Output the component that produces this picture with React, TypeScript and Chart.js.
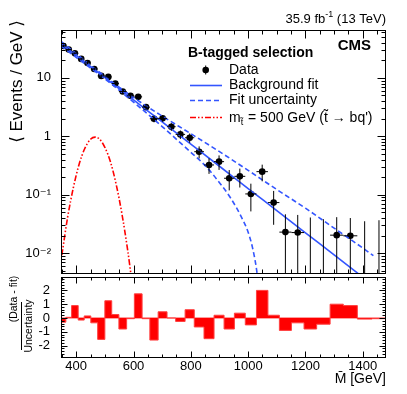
import React, { useEffect, useRef } from "react";
import { Chart, registerables } from "chart.js";

Chart.register(...registerables);

const FONT = "'Liberation Sans', Arial, 'DejaVu Sans', sans-serif";

// ---- data ----
const binEdges = [347, 364, 384, 407, 428, 451, 475, 500, 524, 549, 576, 603, 630, 657, 686, 717, 747, 780, 812, 846, 881, 916, 952, 990, 1029, 1069, 1109, 1151, 1195, 1239, 1286, 1332, 1381, 1432, 1481];
const dataValues = [35.1, 30.5, 26.4, 21.1, 18.0, 14.2, 10.8, 10.4, 8.0, 5.86, 4.93, 4.74, 3.16, 2.0, 2.03, 1.46, 1.08, 0.946, 0.546, 0.324, 0.369, 0.192, 0.207, 0.1035, 0.249, 0.0736, 0.023, 0.0226, 0, 0, 0.0204, 0.0199, 0, 0];
const residuals = [-0.3, 0.05, 0.9, -0.15, 0.15, -0.35, -1.55, 1.25, 0.25, -0.8, -0.05, 1.75, -0.05, -1.6, 0.45, 0.0, -0.25, 0.6, -0.65, -1.5, 0.2, -0.8, 0.35, -0.5, 2.0, 0.2, -0.9, -0.35, -0.8, -0.45, 1.0, 0.9, -0.08, -0.05];

const fitMass = [347, 400, 500, 600, 700, 800, 900, 1000, 1100, 1200, 1300, 1400, 1437];
const fitValues = [38.5, 24.2, 10.1, 4.2, 1.76, 0.736, 0.308, 0.128, 0.0537, 0.0224, 0.0094, 0.0039, 0.0028];
const fitUpperValues = [42.2, 25.9, 10.6, 4.62, 2.22, 1.11, 0.547, 0.262, 0.123, 0.059, 0.0269, 0.0123, 0.0091];
const fitLowerMass = [347, 400, 500, 600, 700, 800, 850, 900, 940, 980, 1000, 1015, 1030, 1040];
const fitLowerValues = [35.1, 22.5, 9.64, 3.85, 1.47, 0.533, 0.316, 0.161, 0.0863, 0.0385, 0.0229, 0.0126, 0.005, 0.0018];

const signalMass = [350, 370, 390, 410, 430, 450, 466, 480, 500, 520, 540, 560, 580, 592];
const signalValues = [0.0093, 0.041, 0.132, 0.33, 0.62, 0.89, 0.97, 0.91, 0.65, 0.36, 0.147, 0.046, 0.011, 0.004];

const emptyBinUpperEvents = 1.8;

const xMajorTicks = [400, 600, 800, 1000, 1200, 1400];
const xTickLabels = ["400", "600", "800", "1000", "1200", "1400"];
const yTickValues = [0.01, 0.1, 1, 10];
const yTickLabels = ["10\u207B\u00B2", "10\u207B\u00B9", "1", "10"];
const rTickValues = [-2, -1, 0, 1, 2];
const rTickLabels = ["-2", "-1", "0", "1", "2"];

const X_MIN = 347, X_MAX = 1481;
const Y_MIN = 0.00442, Y_MAX = 65.9;
const R_MIN = -2.9, R_MAX = 2.95;
const BLUE = "#3355ff";
const RED = "#ff0000";
const BOT_TOP = 269;

function xMinorTicks(): number[] {
  const out: number[] = [];
  for (let v = 350; v <= 1450; v += 50) if (v % 200 !== 0) out.push(v);
  return out;
}
function yMinorTicks(): number[] {
  const out: number[] = [];
  for (let e = -3; e <= 1; e++) for (let k = 2; k <= 9; k++) {
    const v = k * Math.pow(10, e);
    if (v > Y_MIN && v < Y_MAX) out.push(v);
  }
  return out;
}
function rMinorTicks(): number[] {
  const out: number[] = [];
  for (let i = -14; i <= 14; i++) if (i % 5 !== 0) out.push(i * 0.2);
  return out;
}

function drawFrame(chart: any, xMaj: number, xMin: number, yMaj: number, yMin: number, yMajor: number[], yMinor: number[]) {
  const { ctx, chartArea: a, scales } = chart;
  const xs = scales.x, ys = scales.y;
  ctx.save();
  ctx.strokeStyle = "#000";
  ctx.lineWidth = 1;
  const L = Math.round(a.left) + 0.5, R = Math.round(a.right) - 0.5;
  const T = Math.round(a.top) + 0.5, B = Math.round(a.bottom) - 0.5;
  ctx.beginPath();
  const tx = (v: number, len: number) => {
    const p = Math.round(xs.getPixelForValue(v)) + 0.5;
    if (p < L || p > R) return;
    ctx.moveTo(p, B); ctx.lineTo(p, B - len);
    ctx.moveTo(p, T); ctx.lineTo(p, T + len);
  };
  const ty = (v: number, len: number) => {
    const p = Math.round(ys.getPixelForValue(v)) + 0.5;
    if (p < T || p > B) return;
    ctx.moveTo(L, p); ctx.lineTo(L + len, p);
    ctx.moveTo(R, p); ctx.lineTo(R - len, p);
  };
  xMajorTicks.forEach((v) => tx(v, xMaj));
  xMinorTicks().forEach((v) => tx(v, xMin));
  yMajor.forEach((v) => ty(v, yMaj));
  yMinor.forEach((v) => ty(v, yMin));
  ctx.stroke();
  ctx.strokeRect(L, T, R - L, B - T);
  ctx.restore();
}

const errorBarPlugin = {
  id: "errorBars",
  afterDatasetsDraw(chart: any) {
    const { ctx, chartArea: a, scales } = chart;
    const xs = scales.x, ys = scales.y;
    ctx.save();
    ctx.beginPath();
    ctx.rect(a.left, a.top, a.right - a.left, a.bottom - a.top);
    ctx.clip();
    ctx.strokeStyle = "#000";
    ctx.lineWidth = 1;
    ctx.beginPath();
    for (let i = 0; i < dataValues.length; i++) {
      const lo = binEdges[i], hi = binEdges[i + 1];
      const w = hi - lo;
      const c = xs.getPixelForValue((lo + hi) / 2);
      const v = dataValues[i];
      if (v > 0) {
        const err = Math.sqrt(v * w) / w;
        const yTop = ys.getPixelForValue(v + err);
        const yBot = v - err > 0 ? ys.getPixelForValue(v - err) : a.bottom + 5;
        ctx.moveTo(c, yTop); ctx.lineTo(c, yBot);
        const py = ys.getPixelForValue(v);
        ctx.moveTo(xs.getPixelForValue(lo), py); ctx.lineTo(xs.getPixelForValue(hi), py);
      } else {
        const yTop = ys.getPixelForValue(emptyBinUpperEvents / w);
        ctx.moveTo(c, yTop); ctx.lineTo(c, a.bottom + 5);
      }
    }
    ctx.stroke();
    ctx.restore();
  },
};

function drawRotated(ctx: CanvasRenderingContext2D, text: string, cx: number, cy: number, align: CanvasTextAlign) {
  ctx.save();
  ctx.translate(cx, cy);
  ctx.rotate(-Math.PI / 2);
  ctx.textAlign = align;
  ctx.textBaseline = "middle";
  ctx.fillText(text, 0, 0);
  ctx.restore();
}

const topDecor = {
  id: "topDecor",
  afterDraw(chart: any) {
    drawFrame(chart, 8, 4, 8, 4, yTickValues, yMinorTicks());
    const ctx: CanvasRenderingContext2D = chart.ctx;
    ctx.save();
    ctx.fillStyle = "#000";
    ctx.textBaseline = "alphabetic";
    ctx.textAlign = "left";
    // luminosity header
    const p1 = "35.9 fb", sup = "-1", p3 = " (13 TeV)";
    ctx.font = `13px ${FONT}`;
    const w1 = ctx.measureText(p1).width, w3 = ctx.measureText(p3).width;
    ctx.font = `9px ${FONT}`;
    const ws = ctx.measureText(sup).width;
    let x = 386 - w1 - ws - w3;
    ctx.font = `13px ${FONT}`;
    ctx.fillText(p1, x, 23); x += w1;
    ctx.font = `9px ${FONT}`;
    ctx.fillText(sup, x, 17); x += ws;
    ctx.font = `13px ${FONT}`;
    ctx.fillText(p3, x, 23);
    // CMS
    ctx.font = `bold 15px ${FONT}`;
    ctx.textAlign = "right";
    ctx.fillText("CMS", 371, 50);
    // legend header
    ctx.textAlign = "left";
    ctx.font = `bold 14px ${FONT}`;
    ctx.fillText("B-tagged selection", 188, 57);
    // legend entries
    ctx.font = `14px ${FONT}`;
    ctx.fillText("Data", 229, 73.5);
    ctx.fillText("Background fit", 229, 88.5);
    ctx.fillText("Fit uncertainty", 229, 104);
    let mx = 229;
    ctx.fillText("m", mx, 121.5); mx += ctx.measureText("m").width;
    ctx.font = `9px ${FONT}`;
    ctx.fillText("t\u0303", mx, 125); mx += ctx.measureText("t").width + 1;
    ctx.font = `14px ${FONT}`;
    ctx.fillText(" = 500 GeV (t\u0303 \u2192 bq')", mx, 121.5);
    // legend symbols
    ctx.beginPath();
    ctx.arc(205.7, 70, 3.3, 0, Math.PI * 2);
    ctx.fill();
    ctx.strokeStyle = "#000";
    ctx.lineWidth = 1;
    ctx.beginPath();
    ctx.moveTo(205.7, 65.5); ctx.lineTo(205.7, 74.5);
    ctx.stroke();
    ctx.lineWidth = 1.6;
    ctx.strokeStyle = BLUE;
    ctx.beginPath(); ctx.moveTo(190, 85.5); ctx.lineTo(222, 85.5); ctx.stroke();
    ctx.setLineDash([5, 3]);
    ctx.beginPath(); ctx.moveTo(190, 100.5); ctx.lineTo(222, 100.5); ctx.stroke();
    ctx.strokeStyle = RED;
    ctx.setLineDash([6, 2, 1.5, 2, 1.5, 2]);
    ctx.beginPath(); ctx.moveTo(190, 117.5); ctx.lineTo(222, 117.5); ctx.stroke();
    ctx.setLineDash([]);
    // y title
    ctx.fillStyle = "#000";
    ctx.font = `17px ${FONT}`;
    drawRotated(ctx, "\u27E8 Events / GeV \u27E9", 17, 20, "right");
    ctx.restore();
  },
};

const bottomDecor = {
  id: "bottomDecor",
  afterDraw(chart: any) {
    drawFrame(chart, 6, 3, 6, 3, rTickValues, rMinorTicks());
    const ctx: CanvasRenderingContext2D = chart.ctx;
    ctx.save();
    ctx.fillStyle = "#000";
    ctx.font = `14px ${FONT}`;
    ctx.textAlign = "right";
    ctx.textBaseline = "alphabetic";
    ctx.fillText("M\u0304 [GeV]", 386, 383 - BOT_TOP);
    ctx.font = `10.5px ${FONT}`;
    drawRotated(ctx, "(Data - fit)", 14, 299 - BOT_TOP, "center");
    drawRotated(ctx, "Uncertainty", 29, 326 - BOT_TOP, "center");
    ctx.strokeStyle = "#000";
    ctx.lineWidth = 1;
    ctx.beginPath();
    ctx.moveTo(21.5, 302 - BOT_TOP); ctx.lineTo(21.5, 350 - BOT_TOP);
    ctx.stroke();
    ctx.restore();
  },
};

const tickFont = { family: FONT, size: 13 };

export default function App() {
  const topRef = useRef<HTMLCanvasElement>(null);
  const botRef = useRef<HTMLCanvasElement>(null);

  useEffect(() => {
    const centers = dataValues.map((_, i) => (binEdges[i] + binEdges[i + 1]) / 2);
    const top = new Chart(topRef.current as HTMLCanvasElement, {
      type: "scatter",
      data: {
        datasets: [
          {
            label: "Fit uncertainty up",
            data: fitMass.map((m, i) => ({ x: m, y: fitUpperValues[i] })),
            showLine: true, borderColor: BLUE, borderWidth: 1.6, borderDash: [5, 3],
            pointRadius: 0, cubicInterpolationMode: "monotone",
          },
          {
            label: "Fit uncertainty down",
            data: fitLowerMass.map((m, i) => ({ x: m, y: fitLowerValues[i] })),
            showLine: true, borderColor: BLUE, borderWidth: 1.6, borderDash: [5, 3],
            pointRadius: 0, cubicInterpolationMode: "monotone",
          },
          {
            label: "Background fit",
            data: fitMass.map((m, i) => ({ x: m, y: fitValues[i] })),
            showLine: true, borderColor: BLUE, borderWidth: 1.6,
            pointRadius: 0, cubicInterpolationMode: "monotone",
          },
          {
            label: "Signal",
            data: signalMass.map((m, i) => ({ x: m, y: signalValues[i] })),
            showLine: true, borderColor: RED, borderWidth: 1.6, borderDash: [6, 2, 1.5, 2, 1.5, 2],
            pointRadius: 0, cubicInterpolationMode: "monotone",
          },
          {
            label: "Data",
            data: centers.map((c, i) => ({ x: c, y: dataValues[i] > 0 ? dataValues[i] : null })) as any,
            showLine: false, pointRadius: 3.3, pointBackgroundColor: "#000", pointBorderWidth: 0,
            pointHoverRadius: 3.3,
          },
        ],
      },
      options: {
        animation: false,
        responsive: false,
        events: [],
        layout: { padding: { top: 30, right: 21, bottom: 16, left: 0 } },
        plugins: { legend: { display: false }, tooltip: { enabled: false } },
        scales: {
          x: { type: "linear", min: X_MIN, max: X_MAX, display: false },
          y: {
            type: "logarithmic", min: Y_MIN, max: Y_MAX,
            grid: { display: false, drawTicks: true, tickLength: 10 },
            border: { display: false },
            afterBuildTicks: (axis: any) => { axis.ticks = yTickValues.map((v) => ({ value: v })); },
            afterFit: (axis: any) => { axis.width = 61; },
            ticks: {
              autoSkip: false, padding: 0, color: "#000", font: tickFont,
              callback: (_v: any, i: number) => yTickLabels[i],
            },
          },
        },
      },
      plugins: [errorBarPlugin, topDecor],
    });

    const stepData = binEdges.map((e, i) => ({ x: e, y: residuals[Math.min(i, residuals.length - 1)] }));
    const bottom = new Chart(botRef.current as HTMLCanvasElement, {
      type: "line",
      data: {
        datasets: [
          {
            label: "(Data - fit)/Uncertainty",
            data: stepData,
            stepped: true,
            fill: "origin",
            backgroundColor: RED,
            borderColor: "#ff4040",
            borderWidth: 1,
            pointRadius: 0,
          },
          {
            label: "zero",
            data: [{ x: X_MIN, y: 0 }, { x: X_MAX, y: 0 }],
            borderColor: "#ff4040", borderWidth: 1, pointRadius: 0, fill: false,
          },
        ],
      },
      options: {
        animation: false,
        responsive: false,
        events: [],
        layout: { padding: { top: 277.3 - BOT_TOP, right: 21, bottom: 0, left: 0 } },
        plugins: { legend: { display: false }, tooltip: { enabled: false } },
        scales: {
          x: {
            type: "linear", min: X_MIN, max: X_MAX,
            grid: { display: false, drawTicks: true, tickLength: 1 },
            border: { display: false },
            afterBuildTicks: (axis: any) => { axis.ticks = xMajorTicks.map((v) => ({ value: v })); },
            afterFit: (axis: any) => { axis.height = 36; },
            ticks: {
              autoSkip: false, maxRotation: 0, padding: 0, color: "#000", font: tickFont,
              callback: (_v: any, i: number) => xTickLabels[i],
            },
          },
          y: {
            type: "linear", min: R_MIN, max: R_MAX,
            grid: { display: false, drawTicks: true, tickLength: 11 },
            border: { display: false },
            afterBuildTicks: (axis: any) => { axis.ticks = rTickValues.map((v) => ({ value: v })); },
            afterFit: (axis: any) => { axis.width = 61; },
            ticks: {
              autoSkip: false, padding: 0, color: "#000", font: tickFont,
              callback: (_v: any, i: number) => rTickLabels[i],
            },
          },
        },
      },
      plugins: [bottomDecor],
    });

    return () => {
      top.destroy();
      bottom.destroy();
    };
  }, []);

  return (
    <div style={{ position: "absolute", left: 0, top: 0, width: 407, height: 394, background: "#fff" }}>
      <canvas ref={topRef} width={407} height={290} style={{ position: "absolute", left: 0, top: 0 }} />
      <canvas ref={botRef} width={407} height={394 - BOT_TOP} style={{ position: "absolute", left: 0, top: BOT_TOP }} />
    </div>
  );
}
